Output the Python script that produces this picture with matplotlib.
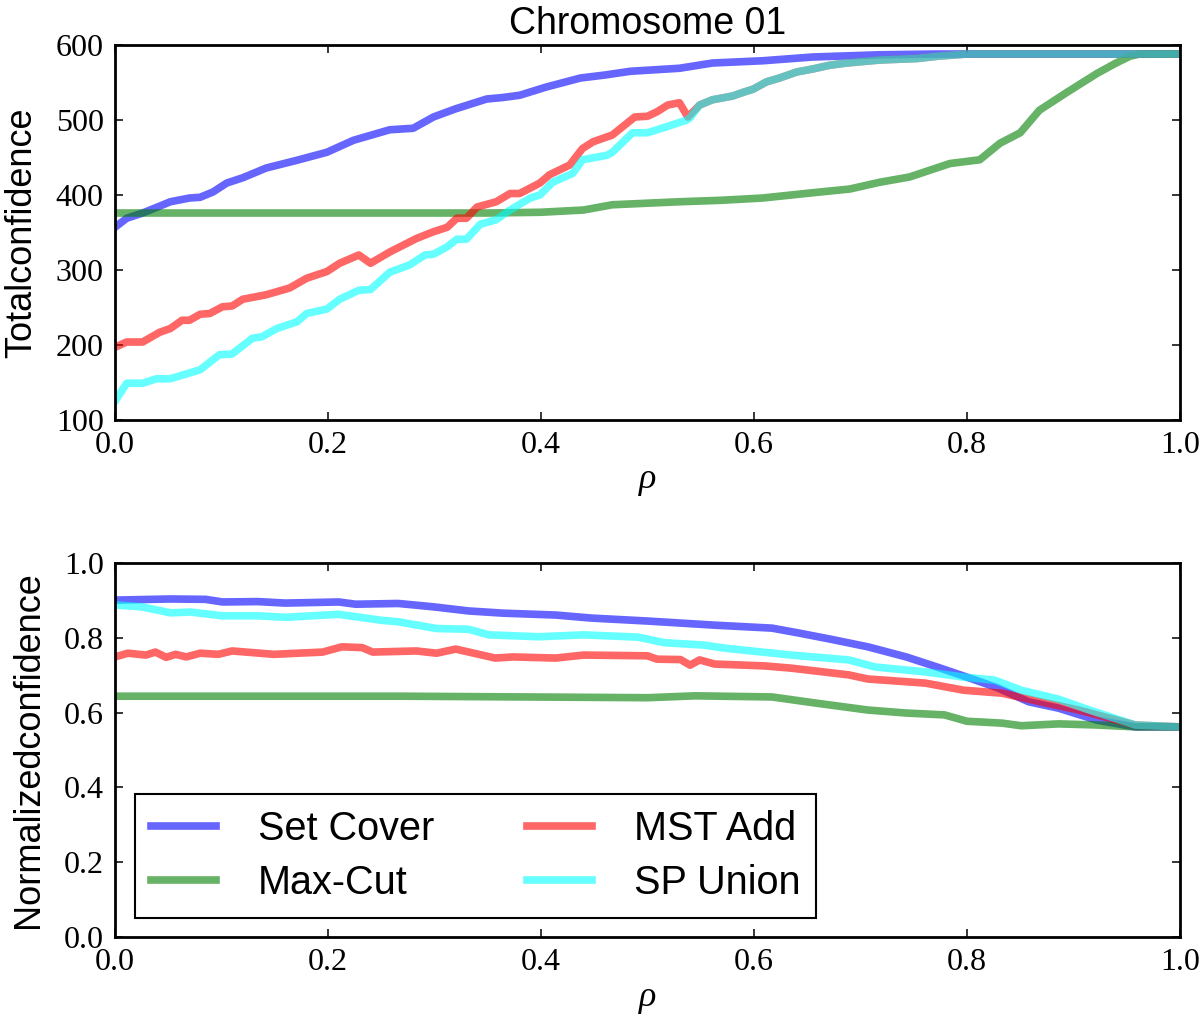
import matplotlib
matplotlib.use("Agg")
import matplotlib.pyplot as plt

# ---- data ----
# top panel: total confidence vs rho
rho_sc = [0, 0.011, 0.026, 0.04, 0.052, 0.07, 0.08, 0.092, 0.105, 0.12, 0.142, 0.17, 0.199,
          0.224, 0.258, 0.28, 0.299, 0.32, 0.349, 0.364, 0.38, 0.405, 0.437, 0.46, 0.484,
          0.53, 0.561, 0.608, 0.655, 0.718, 0.77, 0.8, 1.0]
tot_sc = [357, 369, 376, 384, 391, 396, 397, 404, 416, 423, 436, 446, 457,
          473, 487, 489, 504, 515, 528, 530, 533, 544, 556, 560, 565,
          569, 576, 579, 584, 587, 588, 588, 588]

rho_mc = [0, 0.35, 0.40, 0.44, 0.467, 0.53, 0.57, 0.608, 0.655, 0.69, 0.718, 0.746, 0.784,
          0.812, 0.831, 0.85, 0.868, 0.894, 0.922, 0.94, 0.953, 0.962, 1.0]
tot_mc = [376, 376, 377, 380, 387, 391, 393, 396, 403, 408, 417, 424, 442,
          447, 469, 483, 513, 537, 562, 576, 585, 588, 588]

rho_mst = [0, 0.011, 0.026, 0.042, 0.052, 0.063, 0.07, 0.08, 0.089, 0.101, 0.11, 0.12, 0.142,
           0.164, 0.18, 0.199, 0.211, 0.229, 0.24, 0.258, 0.283, 0.299, 0.312, 0.321, 0.33,
           0.34, 0.358, 0.371, 0.38, 0.399, 0.408, 0.427, 0.439, 0.449, 0.467, 0.488, 0.5,
           0.509, 0.519, 0.53, 0.538, 0.549, 0.561, 0.58, 0.59, 0.599, 0.612, 0.624, 0.64,
           0.655, 0.671, 0.687, 0.718, 0.753, 0.772, 0.8, 1.0]
tot_mst = [197, 204, 204, 217, 222, 233, 233, 241, 242, 251, 252, 261, 267,
           276, 289, 298, 309, 320, 309, 324, 342, 351, 357, 369, 369,
           384, 391, 402, 402, 416, 427, 440, 462, 471, 480, 504, 505,
           511, 520, 523, 504, 520, 527, 532, 537, 541, 551, 556, 564,
           568, 573, 576, 580, 582, 585, 588, 588]

rho_sp = [0, 0.011, 0.026, 0.039, 0.052, 0.08, 0.098, 0.11, 0.129, 0.138, 0.152, 0.171, 0.18,
          0.199, 0.211, 0.229, 0.24, 0.258, 0.277, 0.291, 0.299, 0.312, 0.321, 0.33, 0.343,
          0.358, 0.371, 0.39, 0.399, 0.411, 0.43, 0.439, 0.462, 0.467, 0.486, 0.5, 0.518,
          0.537, 0.54, 0.549, 0.561, 0.58, 0.59, 0.599, 0.612, 0.624, 0.64, 0.655, 0.671,
          0.687, 0.718, 0.753, 0.772, 0.8, 1.0]
tot_sp = [125, 149, 149, 155, 155, 167, 187, 188, 209, 211, 222, 231, 242,
          248, 261, 273, 274, 297, 307, 320, 321, 331, 341, 341, 361,
          367, 380, 396, 400, 417, 429, 447, 453, 457, 483, 483, 491,
          500, 503, 520, 527, 532, 537, 541, 551, 556, 564, 568, 573,
          576, 580, 582, 585, 588, 588]

# bottom panel: normalized confidence vs rho
nrho_sc = [0, 0.052, 0.085, 0.101, 0.134, 0.16, 0.21, 0.226, 0.266, 0.299, 0.332, 0.365,
           0.414, 0.447, 0.5, 0.563, 0.617, 0.642, 0.671, 0.707, 0.743, 0.772, 0.8, 0.829,
           0.858, 0.886, 0.922, 0.958, 1.0]
norm_sc = [0.901, 0.904, 0.903, 0.896, 0.897, 0.893, 0.896, 0.890, 0.892, 0.883, 0.872, 0.866,
           0.861, 0.853, 0.845, 0.834, 0.826, 0.813, 0.797, 0.776, 0.749, 0.722, 0.695, 0.666,
           0.629, 0.612, 0.580, 0.562, 0.562]

nrho_mc = [0, 0.27, 0.5, 0.545, 0.617, 0.657, 0.707, 0.743, 0.779, 0.8, 0.833, 0.851, 0.886,
           0.922, 0.958, 1.0]
norm_mc = [0.644, 0.644, 0.640, 0.645, 0.642, 0.626, 0.607, 0.599, 0.594, 0.577, 0.572, 0.565,
           0.570, 0.567, 0.562, 0.562]

nrho_mst = [0, 0.012, 0.029, 0.038, 0.048, 0.057, 0.067, 0.08, 0.097, 0.11, 0.149, 0.195,
            0.213, 0.232, 0.242, 0.283, 0.302, 0.32, 0.337, 0.357, 0.374, 0.414, 0.44, 0.5,
            0.509, 0.531, 0.54, 0.549, 0.563, 0.61, 0.635, 0.689, 0.707, 0.761, 0.797, 0.833,
            0.869, 0.905, 0.958, 1.0]
norm_mst = [0.749, 0.759, 0.754, 0.762, 0.748, 0.756, 0.749, 0.759, 0.756, 0.765, 0.756, 0.762,
            0.776, 0.774, 0.762, 0.765, 0.759, 0.770, 0.759, 0.746, 0.749, 0.746, 0.754, 0.752,
            0.743, 0.742, 0.727, 0.741, 0.730, 0.725, 0.719, 0.701, 0.690, 0.679, 0.660, 0.652,
            0.629, 0.607, 0.567, 0.562]

nrho_sp = [0, 0.025, 0.052, 0.071, 0.101, 0.134, 0.16, 0.21, 0.25, 0.266, 0.302, 0.332,
           0.351, 0.398, 0.44, 0.491, 0.516, 0.552, 0.574, 0.635, 0.689, 0.714, 0.761, 0.797,
           0.826, 0.851, 0.886, 0.915, 0.958, 1.0]
norm_sp = [0.888, 0.883, 0.867, 0.869, 0.859, 0.859, 0.855, 0.863, 0.847, 0.843, 0.825, 0.823,
           0.808, 0.803, 0.808, 0.802, 0.787, 0.781, 0.772, 0.754, 0.741, 0.722, 0.709, 0.695,
           0.687, 0.660, 0.636, 0.607, 0.567, 0.562]

labels = ["Set Cover", "Max-Cut", "MST Add", "SP Union"]
colors = ["blue", "green", "red", "cyan"]

# ---- styling ----
serif = "Liberation Serif"
sans = "Liberation Sans"
plt.rcParams["font.family"] = sans
plt.rcParams["mathtext.fontset"] = "custom"
plt.rcParams["mathtext.it"] = "Liberation Serif:italic"
plt.rcParams["mathtext.rm"] = "Liberation Serif"

fig = plt.figure(figsize=(12, 10.14), dpi=100)
ax1 = fig.add_axes([0.0958, 0.5858, 0.8875, 0.3698])
ax2 = fig.add_axes([0.0958, 0.0759, 0.8875, 0.3688])

top_series = [(rho_sc, tot_sc), (rho_mc, tot_mc), (rho_mst, tot_mst), (rho_sp, tot_sp)]
bot_series = [(nrho_sc, norm_sc), (nrho_mc, norm_mc), (nrho_mst, norm_mst), (nrho_sp, norm_sp)]

for (x, y), c, lab in zip(top_series, colors, labels):
    ax1.plot(x, y, color=c, lw=5.5, alpha=0.6, label=lab, solid_joinstyle="round")
for (x, y), c, lab in zip(bot_series, colors, labels):
    ax2.plot(x, y, color=c, lw=5.5, alpha=0.6, label=lab, solid_joinstyle="round")

ax1.set_xlim(0, 1)
ax1.set_ylim(100, 600)
ax1.set_yticks([100, 200, 300, 400, 500, 600])
ax2.set_xlim(0, 1)
ax2.set_ylim(0, 1)
ax2.set_yticks([0, 0.2, 0.4, 0.6, 0.8, 1.0])

for ax in (ax1, ax2):
    ax.set_xticks([0, 0.2, 0.4, 0.6, 0.8, 1.0])
    ax.tick_params(direction="in", length=6, width=1.1, pad=8, top=True, right=True,
                   labelsize=23)
    for lab in ax.get_xticklabels() + ax.get_yticklabels():
        lab.set_fontfamily(serif)
    for sp in ax.spines.values():
        sp.set_linewidth(2)
    ax.set_xlabel(r"$\rho$", fontsize=26)

ax1.xaxis.set_major_formatter(matplotlib.ticker.FormatStrFormatter("%.1f"))
ax2.xaxis.set_major_formatter(matplotlib.ticker.FormatStrFormatter("%.1f"))
ax2.yaxis.set_major_formatter(matplotlib.ticker.FormatStrFormatter("%.1f"))

ax1.set_title("Chromosome 01", fontsize=27, pad=8)
ax1.set_ylabel("Totalconfidence", fontsize=26)
ax2.set_ylabel("Normalizedconfidence", fontsize=26)
ax1.yaxis.set_label_coords(-0.071, 0.5)
ax2.yaxis.set_label_coords(-0.065, 0.5)
ax1.xaxis.set_label_coords(0.5, -0.115)
ax2.xaxis.set_label_coords(0.5, -0.118)

leg = ax2.legend(loc="lower left", bbox_to_anchor=(0.0188, 0.051), borderaxespad=0,
                 ncol=2, fontsize=28.5, handlelength=1.65, handletextpad=1.05,
                 columnspacing=2.35, labelspacing=0.4, borderpad=0.4, fancybox=False,
                 edgecolor="black", framealpha=1)
leg.get_frame().set_linewidth(1.5)

fig.savefig("out.png", dpi=100)
